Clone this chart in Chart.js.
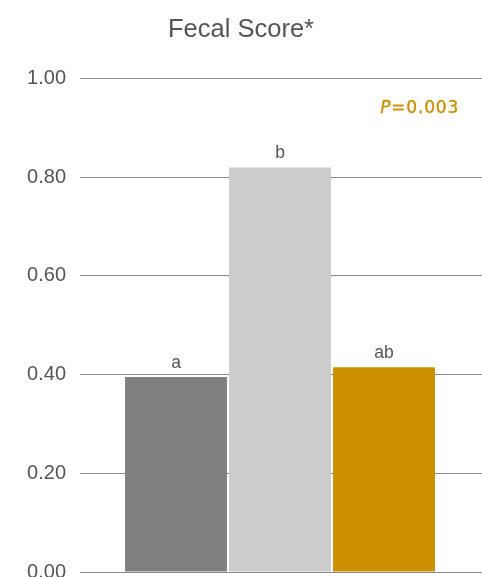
<!DOCTYPE html>
<html>
<head>
<meta charset="utf-8">
<script src="https://cdn.jsdelivr.net/npm/chart.js@4/dist/chart.umd.min.js"></script>
<style>
html,body{margin:0;padding:0;background:#fff;}
#wrap{width:482px;height:577px;position:relative;}
</style>
</head>
<body>
<div id="wrap"><canvas id="c"></canvas></div>
<script>
const categories = ['Group 1', 'Group 2', 'Group 3'];
const values = [0.395, 0.82, 0.415];
const letters = ['a', 'b', 'ab'];
const barColors = ['#808080', '#cccccc', '#cc8f00'];
const yTicks = [0, 0.2, 0.4, 0.6, 0.8, 1.0];
const pText = '=0.003';

const FONT = '"Liberation Sans", Arial, Helvetica, sans-serif';
const PFONT = '"DejaVu Sans", sans-serif';

const labelPlugin = {
  id: 'labels',
  afterDatasetsDraw(chart) {
    const ctx = chart.ctx;
    const meta = chart.getDatasetMeta(0);
    ctx.save();
    ctx.fillStyle = '#555555';
    ctx.font = '17.5px ' + FONT;
    ctx.textAlign = 'center';
    ctx.textBaseline = 'bottom';
    meta.data.forEach((bar, i) => {
      ctx.fillText(letters[i], bar.x, bar.y - 5);
    });
    // P value annotation
    const ys = chart.scales.y;
    const y = ys.getPixelForValue(0.94);
    const right = chart.chartArea.right - 23;
    ctx.textBaseline = 'middle';
    ctx.textAlign = 'left';
    ctx.fillStyle = '#cc8f00';
    ctx.strokeStyle = '#cc8f00';
    ctx.lineWidth = 0.35;
    try { ctx.letterSpacing = '0.8px'; } catch (e) {}
    ctx.font = '17px ' + PFONT;
    const w2 = ctx.measureText(pText).width;
    ctx.font = 'italic 17px ' + PFONT;
    const w1 = ctx.measureText('P').width;
    const x0 = right - w1 - w2;
    ctx.fillText('P', x0, y);
    ctx.strokeText('P', x0, y);
    ctx.font = '17px ' + PFONT;
    ctx.fillText(pText, x0 + w1, y);
    ctx.strokeText(pText, x0 + w1, y);
    ctx.restore();
  }
};

new Chart(document.getElementById('c'), {
  type: 'bar',
  data: {
    labels: categories,
    datasets: [{
      data: values.map((v, i) => ({x: i + 1, y: v})),
      backgroundColor: barColors,
      borderWidth: 0,
      barPercentage: 0.98,
      categoryPercentage: 1.0
    }]
  },
  options: {
    responsive: true,
    maintainAspectRatio: false,
    animation: false,
    layout: { padding: { left: 0, right: 0, top: 0, bottom: 5 } },
    plugins: {
      legend: { display: false },
      tooltip: { enabled: false },
      title: {
        display: true,
        text: 'Fecal Score*',
        color: '#555555',
        font: { family: FONT, size: 25.5, weight: 'normal' },
        padding: { top: 15, bottom: 33 }
      }
    },
    scales: {
      x: {
        type: 'linear',
        min: 0.077,
        max: 3.942,
        offset: false,
        grid: { offset: false },
        display: false,
        afterBuildTicks(scale) { scale.ticks = categories.map((c, i) => ({value: i + 1})); }
      },
      y: {
        min: 0,
        max: 1,
        afterBuildTicks(scale) { scale.ticks = yTicks.map(v => ({value: v})); },
        afterFit(scale) { scale.width = 80; scale.paddingTop = 0; scale.paddingBottom = 0; },
        border: { display: false },
        grid: { color: '#8a8a8a', lineWidth: 1, drawTicks: false },
        ticks: {
          padding: 14,
          color: '#555555',
          font: { family: FONT, size: 20 },
          callback: v => Number(v).toFixed(2)
        }
      }
    }
  },
  plugins: [labelPlugin]
});
</script>
</body>
</html>
